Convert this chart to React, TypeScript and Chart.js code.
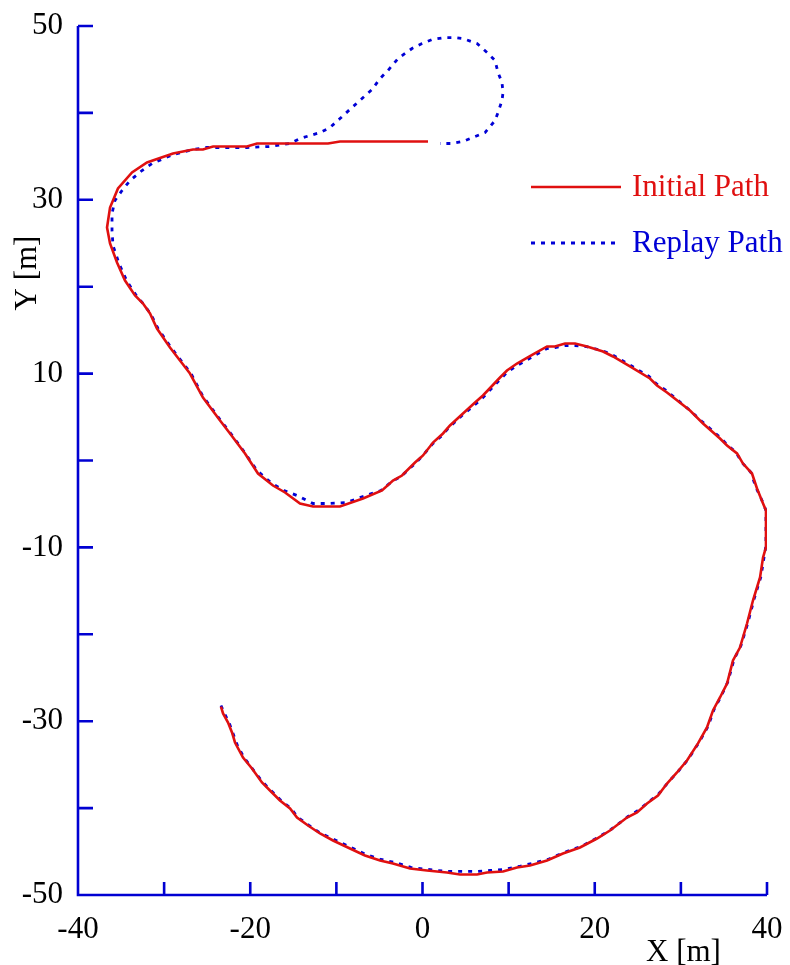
import React, { useEffect, useRef } from "react";
import { Chart, registerables } from "chart.js";

Chart.register(...registerables);

// Initial path, traced from its start in the lower left, round the loop, to its end at the top
const initialX = [
  -23.4, -23.16, -22.58, -22.12, -21.77, -20.84, -19.8, -18.64, -17.71, -16.55,
  -15.38, -14.57, -13.29, -11.9, -10.39, -8.42, -6.68, -4.93, -3.43, -1.45,
  0.52, 2.84, 4.35, 6.33, 7.49, 9.35, 10.97, 12.48, 14.46, 16.31,
  18.29, 20.26, 21.77, 23.74, 24.91, 26.07, 27.34, 28.39, 29.55, 30.71,
  31.99, 33.03, 33.73, 34.54, 35.36, 36.05, 36.86, 37.68, 38.37, 39.19,
  39.54, 39.88, 39.88, 39.54, 38.84, 38.26, 37.21, 36.52, 35.36, 34.54,
  32.57, 31.06, 28.39, 27.23, 26.41, 24.09, 22.12, 20.96, 19.1, 17.71,
  16.55, 15.38, 14.46, 12.83, 10.97, 9.81, 9.0, 7.02, 6.1, 4.7,
  3.19, 2.38, 1.22, 0.06, -0.87, -2.38, -3.43, -4.7, -6.91, -9.58,
  -12.71, -14.22, -15.96, -17.36, -19.1, -20.61, -22.35, -23.51, -25.49, -27.0,
  -28.16, -29.32, -30.83, -31.64, -32.45, -33.38, -34.54, -35.47, -36.28, -36.63,
  -36.28, -35.36, -33.73, -31.99, -28.97, -26.65, -25.49, -24.32, -20.38, -19.22,
  -10.97, -9.58, 0.64,
];
const initialY = [
  -28.31, -29.11, -30.15, -31.3, -32.45, -34.18, -35.44, -37.05, -37.97, -39.12,
  -40.04, -41.08, -42.0, -42.92, -43.73, -44.65, -45.45, -46.03, -46.37, -46.95,
  -47.18, -47.41, -47.64, -47.64, -47.41, -47.29, -46.83, -46.6, -46.03, -45.22,
  -44.53, -43.5, -42.58, -41.08, -40.51, -39.47, -38.55, -37.17, -35.9, -34.52,
  -32.56, -30.72, -28.77, -27.27, -25.66, -23.01, -21.52, -18.76, -16.11, -13.46,
  -11.16, -10.01, -5.75, -4.95, -3.22, -1.5, -0.35, 0.81, 1.73, 2.53,
  4.26, 5.75, 7.82, 8.63, 9.44, 10.82, 11.97, 12.54, 13.12, 13.46,
  13.46, 13.12, 13.12, 12.2, 11.16, 10.36, 9.55, 7.48, 6.67, 5.41,
  4.03, 3.11, 2.07, 0.58, -0.23, -1.73, -2.3, -3.45, -4.37, -5.29,
  -5.29, -4.95, -3.68, -2.88, -1.5, 0.81, 3.11, 4.6, 7.25, 10.01,
  11.51, 13.0, 15.19, 16.92, 18.07, 18.99, 20.71, 22.78, 24.97, 26.81,
  29.11, 31.3, 33.14, 34.29, 35.33, 35.79, 35.79, 36.13, 36.13, 36.48,
  36.48, 36.71, 36.71,
];

// Replay path, same direction, ending with the loop at the top
const replayX = [
  -23.4, -23.05, -22.47, -22.0, -21.54, -20.73, -19.68, -18.52, -17.59, -16.43,
  -15.27, -14.46, -13.18, -11.79, -10.28, -8.3, -6.56, -4.82, -3.19, -1.34,
  0.64, 2.84, 4.35, 6.33, 7.84, 9.35, 11.2, 12.71, 14.57, 16.43,
  18.4, 20.38, 21.89, 23.86, 25.02, 26.18, 27.46, 28.51, 29.67, 30.83,
  32.1, 33.15, 33.85, 34.66, 35.47, 36.17, 36.98, 37.79, 38.49, 39.3,
  39.65, 39.88, 39.88, 39.42, 38.72, 38.14, 37.1, 36.4, 35.24, 34.43,
  32.45, 30.94, 28.27, 27.11, 26.3, 23.98, 22.0, 20.84, 18.98, 17.71,
  16.55, 15.38, 14.46, 12.83, 10.97, 9.81, 9.0, 7.02, 5.98, 4.59,
  3.08, 2.26, 1.1, -0.06, -0.99, -2.5, -3.54, -4.82, -6.91, -8.77,
  -11.09, -12.71, -14.57, -16.08, -17.47, -19.22, -20.73, -22.35, -23.51, -25.49,
  -26.88, -28.04, -29.2, -30.71, -31.52, -32.34, -33.15, -34.31, -35.24, -35.94,
  -36.05, -36.05, -35.71, -34.89, -33.96, -32.57, -31.41, -28.97, -26.65, -25.02,
  -20.38, -17.71, -15.38, -14.22, -11.9, -10.74, -9.58, -8.19, -7.02, -5.86,
  -4.93, -4.01, -2.84, -1.22, -0.06, 1.1, 2.61, 3.77, 4.7, 6.33,
  7.49, 8.42, 8.77, 9.23, 9.35, 9.23, 8.77, 8.42, 7.26, 5.86,
  4.7, 3.43, 2.03,
];
const replayY = [
  -28.19, -29.0, -30.15, -31.41, -32.68, -34.18, -35.56, -37.05, -37.97, -39.12,
  -40.04, -41.08, -42.0, -42.92, -43.61, -44.53, -45.34, -45.91, -46.26, -46.83,
  -47.06, -47.29, -47.29, -47.29, -47.18, -47.06, -46.72, -46.37, -45.91, -45.11,
  -44.42, -43.38, -42.46, -40.97, -40.28, -39.35, -38.32, -37.05, -35.79, -34.41,
  -32.45, -30.61, -28.65, -27.16, -25.43, -22.9, -21.29, -18.64, -15.99, -13.35,
  -11.16, -9.78, -5.75, -4.6, -3.11, -1.38, -0.23, 0.92, 1.96, 2.76,
  4.49, 5.87, 8.06, 8.86, 9.67, 11.05, 12.2, 12.66, 13.12, 13.23,
  13.23, 13.0, 12.89, 11.97, 10.93, 10.13, 9.32, 7.25, 6.33, 5.18,
  3.8, 2.88, 1.84, 0.46, -0.46, -1.84, -2.42, -3.45, -4.14, -4.83,
  -4.95, -4.95, -4.03, -3.45, -2.65, -1.15, 1.04, 3.22, 4.72, 7.36,
  10.01, 11.51, 13.0, 15.19, 16.8, 17.95, 18.87, 20.6, 22.67, 24.74,
  26.47, 28.42, 29.92, 31.07, 32.22, 33.37, 34.18, 35.21, 35.79, 36.02,
  36.02, 36.13, 36.48, 37.05, 37.74, 38.32, 39.35, 40.62, 41.66, 42.69,
  43.96, 44.88, 46.26, 47.41, 47.98, 48.44, 48.67, 48.67, 48.56, 47.98,
  46.95, 46.03, 44.65, 43.5, 42.35, 41.43, 40.04, 39.12, 37.74, 37.17,
  36.71, 36.48, 36.48,
];

const seriesNames = ["Initial Path", "Replay Path"];
const xTickLabels = [-40, -20, 0, 20, 40];
const yTickLabels = [50, 30, 10, -10, -30, -50];
const xTitle = "X [m]";
const yTitle = "Y [m]";

const RED = "rgb(224, 16, 16)";
const BLUE = "rgb(0, 0, 214)";
const AXIS = "rgb(0, 0, 210)";
const FONT = "'Liberation Serif', 'Times New Roman', serif";

const toPoints = (xs: number[], ys: number[]) =>
  xs.map((x, i) => ({ x, y: ys[i] }));

// Axis lines with inward ticks, axis titles and the legend
const framePlugin = {
  id: "frame",
  afterDraw(chart: any) {
    const { ctx, chartArea, scales } = chart;
    const xs = scales.x;
    const ys = scales.y;
    ctx.save();
    ctx.strokeStyle = AXIS;
    ctx.lineWidth = 2.6;
    ctx.lineCap = "butt";
    ctx.beginPath();
    ctx.moveTo(chartArea.left, chartArea.top);
    ctx.lineTo(chartArea.left, chartArea.bottom);
    ctx.lineTo(chartArea.right, chartArea.bottom);
    ctx.stroke();

    ctx.beginPath();
    xs.ticks.forEach((t: any) => {
      const px = xs.getPixelForValue(t.value);
      if (Math.abs(px - chartArea.left) < 1) return;
      ctx.moveTo(px, chartArea.bottom);
      ctx.lineTo(px, chartArea.bottom - 13);
    });
    ys.ticks.forEach((t: any) => {
      const py = ys.getPixelForValue(t.value);
      if (Math.abs(py - chartArea.bottom) < 1) return;
      ctx.moveTo(chartArea.left, py);
      ctx.lineTo(chartArea.left + 15, py);
    });
    ctx.stroke();

    // axis titles
    ctx.fillStyle = "#000";
    ctx.font = `31px ${FONT}`;
    ctx.textAlign = "left";
    ctx.textBaseline = "alphabetic";
    ctx.fillText(xTitle, 646, 961);
    ctx.save();
    ctx.translate(36, 273);
    ctx.rotate(-Math.PI / 2);
    ctx.textAlign = "center";
    ctx.fillText(yTitle, 0, 0);
    ctx.restore();

    // legend
    const rows = [
      { y: 187, baseline: 196, ds: chart.data.datasets[0] },
      { y: 243, baseline: 252, ds: chart.data.datasets[1] },
    ];
    rows.forEach((r) => {
      ctx.strokeStyle = r.ds.borderColor;
      ctx.lineWidth = r.ds.borderWidth;
      ctx.setLineDash(r.ds.borderDash || []);
      ctx.beginPath();
      ctx.moveTo(531, r.y);
      ctx.lineTo(621, r.y);
      ctx.stroke();
      ctx.setLineDash([]);
      ctx.fillStyle = r.ds.borderColor;
      ctx.textAlign = "left";
      ctx.fillText(r.ds.label, 632, r.baseline);
    });
    ctx.restore();
  },
};

export default function App() {
  const canvasRef = useRef<HTMLCanvasElement | null>(null);

  useEffect(() => {
    const canvas = canvasRef.current;
    if (!canvas) return;
    const chart = new Chart(canvas, {
      type: "line",
      data: {
        datasets: [
          {
            label: seriesNames[0],
            data: toPoints(initialX, initialY),
            borderColor: RED,
            borderWidth: 2.6,
            pointRadius: 0,
            tension: 0,
            fill: false,
          },
          {
            label: seriesNames[1],
            data: toPoints(replayX, replayY),
            borderColor: BLUE,
            borderWidth: 2.8,
            borderDash: [4, 6],
            pointRadius: 0,
            tension: 0,
            fill: false,
          },
        ],
      },
      options: {
        animation: false,
        responsive: false,
        layout: { padding: { top: 26, right: 23, left: 0, bottom: 0 } },
        plugins: {
          legend: { display: false },
          tooltip: { enabled: false },
        },
        scales: {
          x: {
            type: "linear",
            min: -40,
            max: 40,
            grid: { display: false, drawTicks: false },
            border: { display: false },
            ticks: {
              stepSize: 10,
              padding: 16,
              maxRotation: 0,
              autoSkip: false,
              color: "#000",
              font: { family: FONT, size: 31 },
              callback: (v: any) =>
                xTickLabels.includes(Number(v)) ? String(v) : "",
            },
            afterFit: (s: any) => {
              s.height = 70;
              s.paddingLeft = 0;
              s.paddingRight = 0;
            },
          },
          y: {
            type: "linear",
            min: -50,
            max: 50,
            grid: { display: false, drawTicks: false },
            border: { display: false },
            ticks: {
              stepSize: 10,
              padding: 15,
              autoSkip: false,
              color: "#000",
              font: { family: FONT, size: 31 },
              callback: (v: any) =>
                yTickLabels.includes(Number(v)) ? String(v) : "",
            },
            afterFit: (s: any) => {
              s.width = 78;
              s.paddingTop = 0;
              s.paddingBottom = 0;
            },
          },
        },
      },
      plugins: [framePlugin],
    });
    return () => chart.destroy();
  }, []);

  return (
    <div
      style={{
        position: "absolute",
        left: 0,
        top: 0,
        width: 790,
        height: 965,
        background: "#fff",
      }}
    >
      <canvas ref={canvasRef} width={790} height={965} />
    </div>
  );
}
